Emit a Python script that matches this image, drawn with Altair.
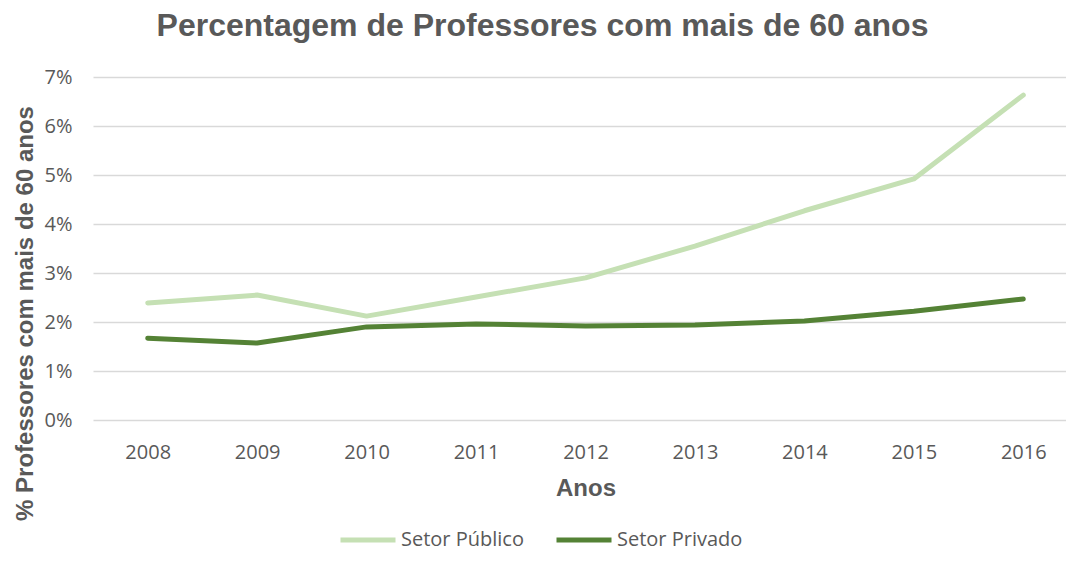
import altair as alt
import pandas as pd

anos = ["2008", "2009", "2010", "2011", "2012", "2013", "2014", "2015", "2016"]
publico = [0.0239, 0.0255, 0.0212, 0.0251, 0.0290, 0.0355, 0.0427, 0.0492, 0.0663]
privado = [0.0167, 0.0157, 0.0190, 0.0196, 0.0192, 0.0194, 0.0202, 0.0222, 0.0247]
series = ["Setor Público", "Setor Privado"]
colors = ["#C5E0B4", "#548235"]

rows = []
for i, a in enumerate(anos):
    rows.append({"Ano": a, "Setor": series[0], "Valor": publico[i]})
    rows.append({"Ano": a, "Setor": series[1], "Valor": privado[i]})
df = pd.DataFrame(rows)

gray = "#595959"
label_font = "Open Sans"

chart = alt.Chart(df).mark_line(strokeWidth=5, strokeCap="round", strokeJoin="round").encode(
    x=alt.X("Ano:O", sort=anos, scale=alt.Scale(padding=0.5),
            axis=alt.Axis(title="Anos", labelAngle=0, labelPadding=22, ticks=False, domain=False,
                          labelFont=label_font, labelFontSize=20, labelColor=gray,
                          titleFont="Liberation Sans", titleFontSize=24, titleFontWeight="bold",
                          titleColor=gray, titlePadding=14)),
    y=alt.Y("Valor:Q", scale=alt.Scale(domain=[0, 0.07], nice=False),
            axis=alt.Axis(title="% Professores com mais de 60 anos", format=".0%", values=[0, 0.01, 0.02, 0.03, 0.04, 0.05, 0.06, 0.07],
                          ticks=False, domain=False, gridColor="#D9D9D9", gridWidth=1.5,
                          labelFont=label_font, labelFontSize=20, labelColor=gray, labelPadding=21,
                          titleFont="Liberation Sans", titleFontSize=24, titleFontWeight="bold",
                          titleColor=gray, titlePadding=7, titleY=236)),
    color=alt.Color("Setor:N", sort=series, scale=alt.Scale(domain=series, range=colors),
                    legend=alt.Legend(title=None, orient="none", legendX=245, legendY=433,
                                      direction="horizontal", symbolType="stroke",
                                      symbolSize=3025, symbolStrokeWidth=5,
                                      labelFont=label_font, labelFontSize=20, labelColor=gray,
                                      labelOffset=3, columnPadding=22)),
    detail="Setor:N",
).properties(
    width=985,
    height=343,
    autosize=alt.AutoSizeParams(type="none"),
    padding={"left": 85, "top": 69, "right": -12, "bottom": 133},
    title=alt.TitleParams("Percentagem de Professores com mais de 60 anos",
                          font="Liberation Sans", fontSize=32, fontWeight="bold",
                          color=gray, anchor="middle", dx=-43, offset=24),
).configure_view(stroke=None)

chart.save("out.html", embed_options={"renderer": "svg", "actions": False})
